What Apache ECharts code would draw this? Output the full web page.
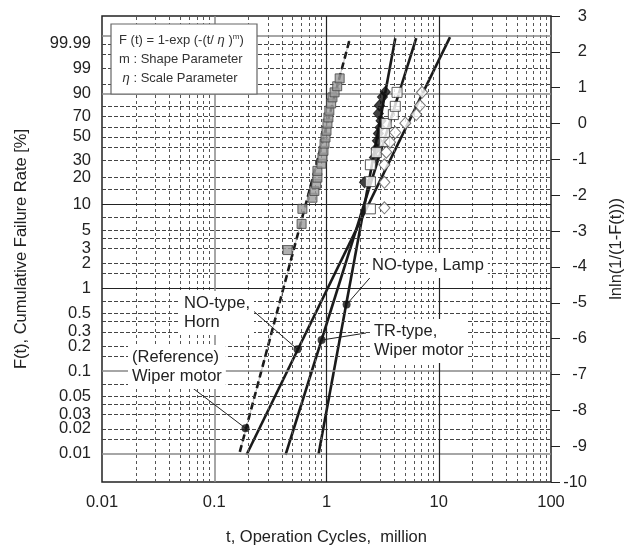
<!DOCTYPE html>
<html>
<head>
<meta charset="utf-8">
<script src="https://cdn.jsdelivr.net/npm/echarts@6/dist/echarts.min.js"></script>
<style>
  html, body { margin: 0; padding: 0; background: #fff; }
  #main { width: 629px; height: 547px; }
</style>
</head>
<body>
<div id="main"></div>
<script>
// ---------------------------------------------- data
// left axis tick labels, F(t) in %
var pctLabels = ['99.99', '99', '90', '70', '50', '30', '20', '10', '5', '3', '2', '1', '0.5', '0.3', '0.2', '0.1', '0.05', '0.03', '0.02', '0.01'];
// horizontal grid, F(t) in %
var pctDashed = [99.99, 99.9, 99, 95, 80, 70, 60, 50, 40, 30, 20, 15, 7, 5, 4, 3, 2, 1.5, 0.7, 0.5, 0.4, 0.3, 0.2, 0.15, 0.07, 0.05, 0.04, 0.03, 0.02, 0.015];
var pctSolidBlack = [10, 1];
var pctSolidGray = [99.999, 90, 0.1, 0.01];
// vertical grid, million cycles
var xDashed = [0.02, 0.03, 0.04, 0.05, 0.06, 0.07, 0.08, 0.09, 0.2, 0.3, 0.4, 0.5, 0.6, 0.7, 0.8, 0.9,
               2, 3, 4, 5, 6, 7, 8, 9, 20, 30, 40, 50, 60, 70, 80, 90];
var xSolidBlack = [1, 10];
var xSolidGray = [0.1];
var xLabels = ['0.01', '0.1', '1', '10', '100'];

// (Reference) Wiper motor : gray squares  [t, lnln]
var refT = [0.45, 0.60, 0.61, 0.75, 0.78, 0.81, 0.83, 0.83, 0.90, 0.92, 0.94, 0.96, 0.98, 1.00, 1.02, 1.04, 1.06, 1.10, 1.13, 1.18, 1.245, 1.31];
var refY = [-3.53, -2.80, -2.38, -2.07, -1.88, -1.68, -1.51, -1.32, -1.12, -0.95, -0.76, -0.56, -0.39, -0.20, 0.00, 0.17, 0.36, 0.56, 0.73, 0.87, 1.04, 1.26];
// TR-type, Wiper motor : open squares
var trT = [2.46, 2.46, 2.46, 2.78, 3.28, 3.28, 3.40, 3.94, 4.10, 4.25];
var trY = [-2.38, -1.62, -1.15, -0.81, -0.50, -0.25, 0.00, 0.25, 0.48, 0.87];
// NO-type, Horn : open diamonds
var hornT = [3.28, 3.28, 3.28, 3.41, 3.68, 4.10, 5.04, 6.30, 6.80, 7.10];
var hornY = [-2.35, -1.64, -1.15, -0.80, -0.52, -0.25, 0.01, 0.25, 0.50, 0.87];
// NO-type, Lamp : black diamonds
var lampT = [2.18, 2.67, 2.77, 2.84, 2.90, 3.00, 3.06, 2.90, 2.96, 3.15, 3.34];
var lampY = [-1.64, -0.95, -0.70, -0.48, -0.28, -0.11, 0.08, 0.28, 0.50, 0.74, 0.88];

// fitted Weibull lines (end points) and marked dots
var refLine = [[0.169, -9.16], [1.6, 2.32]];
var hornLine = [[0.194, -9.24], [12.6, 2.41]];
var trLine = [[0.432, -9.24], [6.3, 2.38]];
var lampLine = [[0.85, -9.22], [4.1, 2.38]];
var refDot = [0.19, -8.5];
var hornDot = [0.552, -6.3];
var trDot = [0.904, -6.04];
var lampDot = [1.51, -5.05];

!function () {
    var font = "'Liberation Sans', Arial, Helvetica, sans-serif";
    var txt = '#222';

    function lnln(p) { return Math.log(-Math.log(1 - p / 100)); }
    function pairs(xs, ys) {
        return xs.map(function (x, i) { return [x, ys[i]]; });
    }

    // grid lines as markLines so they follow the axis scales
    var gridLines = [];
    pctDashed.forEach(function (p) {
        gridLines.push({ yAxis: lnln(p), lineStyle: { color: '#444', width: 1, type: [4, 2] } });
    });
    xDashed.forEach(function (x) {
        gridLines.push({ xAxis: x, lineStyle: { color: '#555', width: 1, type: [3, 3] } });
    });
    pctSolidGray.forEach(function (p) {
        gridLines.push({ yAxis: lnln(p), lineStyle: { color: '#888', width: 1.5, type: 'solid' } });
    });
    pctSolidBlack.forEach(function (p) {
        gridLines.push({ yAxis: lnln(p), lineStyle: { color: '#222', width: 1.2, type: 'solid' } });
    });
    xSolidGray.forEach(function (x) {
        gridLines.push({ xAxis: x, lineStyle: { color: '#888', width: 1.5, type: 'solid' } });
    });
    xSolidBlack.forEach(function (x) {
        gridLines.push({ xAxis: x, lineStyle: { color: '#222', width: 1.2, type: 'solid' } });
    });

    var labelVals = pctLabels.map(function (s) { return lnln(parseFloat(s)); });

    var myChart = echarts.init(document.getElementById('main'));
    var option = {
        animation: false,
        grid: {
            left: 102,
            right: 78,
            top: 16,
            bottom: 65,
            outerBoundsMode: 'none',
            show: true,
            borderColor: '#222',
            borderWidth: 1.5,
            backgroundColor: '#fff'
        },
        xAxis: {
            type: 'log',
            logBase: 10,
            min: 0.01,
            max: 100,
            name: 't, Operation Cycles,  million',
            nameLocation: 'middle',
            nameGap: 47,
            nameTextStyle: { fontFamily: font, fontSize: 16.5, color: txt },
            axisLine: { show: false },
            axisTick: { show: false },
            splitLine: { show: false },
            axisLabel: {
                fontFamily: font, fontSize: 16.5, color: txt, margin: 12,
                formatter: function (v) {
                    var i = Math.round(Math.log10(v)) + 2;
                    return xLabels[i] || '';
                }
            }
        },
        yAxis: [{
            type: 'value',
            position: 'left',
            min: -10,
            max: 3,
            name: 'F(t), Cumulative Failure Rate [%]',
            nameLocation: 'middle',
            nameGap: 72,
            nameTextStyle: { fontFamily: font, fontSize: 16.5, color: txt },
            axisLine: { show: false },
            axisTick: { show: false },
            splitLine: { show: false },
            axisLabel: {
                customValues: labelVals,
                fontFamily: font, fontSize: 16.5, color: txt, margin: 11,
                formatter: function (v) {
                    for (var i = 0; i < labelVals.length; i++) {
                        if (Math.abs(labelVals[i] - v) < 1e-6) return pctLabels[i];
                    }
                    return '';
                }
            }
        }, {
            type: 'value',
            position: 'right',
            min: -10,
            max: 3,
            interval: 1,
            name: 'lnln(1/(1-F(t)))',
            nameLocation: 'middle',
            nameRotate: 90,
            nameGap: 57,
            nameTextStyle: { fontFamily: font, fontSize: 16.5, color: txt },
            axisLine: { show: false },
            axisTick: { show: true, inside: false, length: 9, lineStyle: { color: '#222', width: 1 } },
            splitLine: { show: false },
            axisLabel: {
                fontFamily: font, fontSize: 16.5, color: txt, margin: 36, align: 'right'
            }
        }],
        series: [{
            name: 'grid',
            type: 'line',
            z: 1,
            data: [[0.01, -10]],
            symbol: 'none',
            lineStyle: { opacity: 0 },
            silent: true,
            markLine: {
                silent: true,
                symbol: 'none',
                label: { show: false },
                data: gridLines
            }
        }, {
            // thin gray guide under the dashed reference fit
            type: 'line', z: 3, data: refLine, symbol: 'none',
            lineStyle: { color: '#bbb', width: 1 }
        }, {
            type: 'line', z: 4, data: refLine, symbol: 'none',
            lineStyle: { color: '#1a1a1a', width: 2.6, type: [7, 4] }
        }, {
            type: 'line', z: 4, data: hornLine, symbol: 'none',
            lineStyle: { color: '#1a1a1a', width: 2.6 }
        }, {
            type: 'line', z: 4, data: trLine, symbol: 'none',
            lineStyle: { color: '#1a1a1a', width: 2.6 }
        }, {
            type: 'line', z: 4, data: lampLine, symbol: 'none',
            lineStyle: { color: '#1a1a1a', width: 2.6 }
        }, {
            type: 'scatter', z: 5, data: pairs(refT, refY),
            symbol: 'rect', symbolSize: 9,
            itemStyle: { color: '#9c9c9c', borderColor: '#444', borderWidth: 1 }
        }, {
            type: 'scatter', z: 5, data: pairs(lampT, lampY),
            symbol: 'diamond', symbolSize: [10, 11],
            itemStyle: { color: '#111', borderColor: '#111', borderWidth: 1 }
        }, {
            type: 'scatter', z: 6, data: pairs(trT, trY),
            symbol: 'rect', symbolSize: 10,
            itemStyle: { color: '#fff', borderColor: '#333', borderWidth: 1 }
        }, {
            type: 'scatter', z: 6, data: pairs(hornT, hornY),
            symbol: 'diamond', symbolSize: [11, 12],
            itemStyle: { color: '#fff', borderColor: '#555', borderWidth: 1 }
        }, {
            type: 'scatter', z: 7, data: [refDot, hornDot, trDot, lampDot],
            symbol: 'circle', symbolSize: 8,
            itemStyle: { color: '#111' }
        }]
    };
    myChart.setOption(option);

    // -------------------------------------------- annotations
    function px(p) { return myChart.convertToPixel({ gridIndex: 0 }, p); }
    var notes = [
        { text: 'NO-type,\nHorn', x: 180, y: 291, from: [250, 308], dot: hornDot },
        { text: '(Reference)\nWiper motor', x: 128, y: 345, from: [190, 386], dot: refDot },
        { text: 'NO-type, Lamp', x: 368, y: 253, from: [375, 272], dot: lampDot },
        { text: 'TR-type,\nWiper motor', x: 370, y: 319, from: [366, 333], dot: trDot }
    ];
    var graphic = [];
    notes.forEach(function (n) {
        var d = px(n.dot);
        graphic.push({
            type: 'line', z: 90,
            shape: { x1: n.from[0], y1: n.from[1], x2: d[0], y2: d[1] },
            style: { stroke: '#222', lineWidth: 1 }
        });
        graphic.push({
            type: 'text', z: 100, x: n.x, y: n.y,
            style: {
                text: n.text, fontFamily: font, fontSize: 16.5, fill: txt,
                lineHeight: 19, backgroundColor: '#fff', padding: [3, 4, 3, 4]
            }
        });
    });
    // formula box
    graphic.push({
        type: 'rect', z: 100,
        shape: { x: 111, y: 24, width: 146, height: 70 },
        style: { fill: '#fff', stroke: '#666', lineWidth: 1.2 }
    });
    graphic.push({
        type: 'text', z: 101, x: 119, y: 31,
        style: {
            text: 'F (t) = 1-exp (-(t/ {it|η} ){sup|m})\nm : Shape Parameter\n {it|η} : Scale Parameter',
            fontFamily: font, fontSize: 13, fill: '#333', lineHeight: 19,
            rich: {
                it: { fontFamily: font, fontSize: 13, fontStyle: 'italic', fill: '#333', lineHeight: 19 },
                sup: { fontFamily: font, fontSize: 8, fill: '#333', verticalAlign: 'top', lineHeight: 19, padding: [2, 0, 0, 0] }
            }
        }
    });
    myChart.setOption({ graphic: graphic });
}();
</script>
</body>
</html>
